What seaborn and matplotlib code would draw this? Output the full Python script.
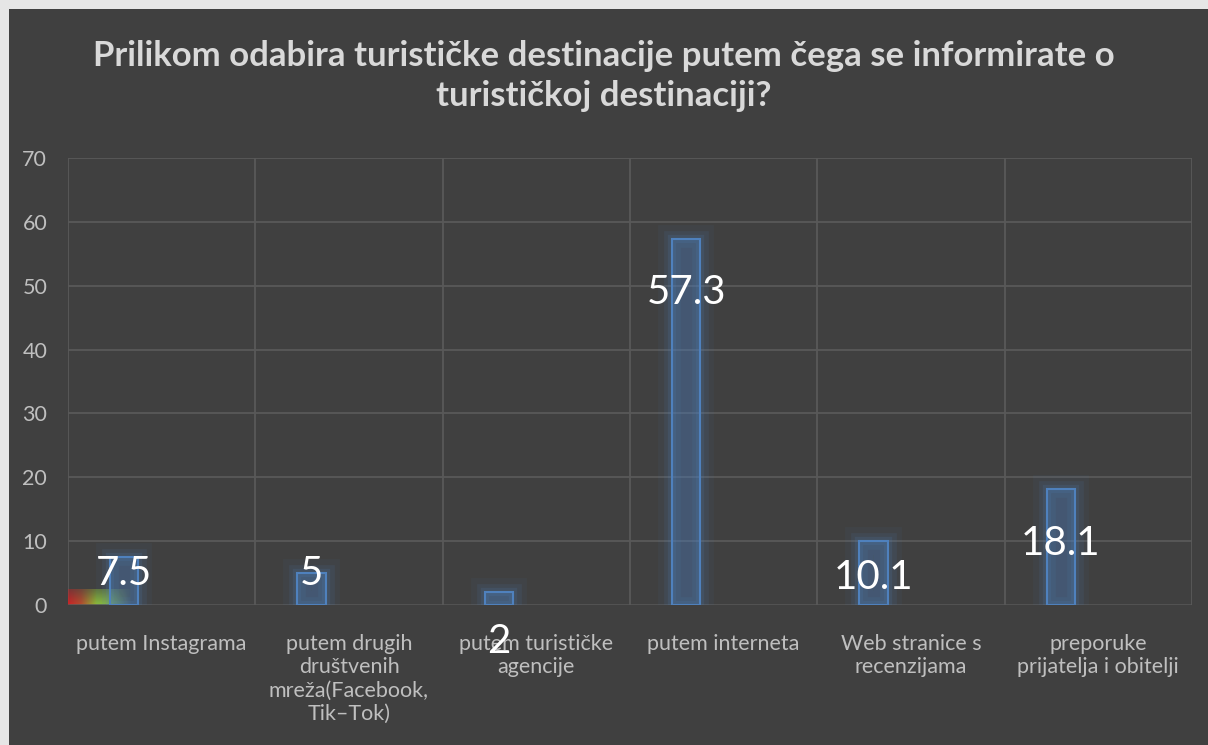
import matplotlib
matplotlib.use("Agg")
import matplotlib.pyplot as plt
import matplotlib.patheffects as pe
from matplotlib.patches import Rectangle
import seaborn as sns
import numpy as np

categories = ["putem Instagrama",
              "putem drugih\ndruštvenih\nmreža(Facebook,\nTik–Tok)",
              "putem turističke\nagencije",
              "putem interneta",
              "Web stranice s\nrecenzijama",
              "preporuke\nprijatelja i obitelji"]
values = [7.5, 5, 2, 57.3, 10.1, 18.1]
value_labels = ["7.5", "5", "2", "57.3", "10.1", "18.1"]
# where Excel put each data label (y, in axis units)
label_y = [4.9, 4.9, -5.7, 49.0, 4.3, 9.6]

title = "Prilikom odabira turističke destinacije putem čega se informirate o\nturističkoj destinaciji?"

bg = "#404040"
grid = "#595959"
blue = "#4f81bd"
font = ["Lato", "DejaVu Sans"]

sns.set_style("dark")
plt.rcParams["font.family"] = font

fig = plt.figure(figsize=(12.08, 7.45), dpi=100, facecolor=bg)
# thin light frame on the top and left edge
fig.add_artist(Rectangle((0, 1 - 9 / 745), 1, 9 / 745, transform=fig.transFigure,
                         facecolor="#e6e6e6", edgecolor="none", zorder=-1))
fig.add_artist(Rectangle((0, 0), 9 / 1208, 1, transform=fig.transFigure,
                         facecolor="#e6e6e6", edgecolor="none", zorder=-1))
ax = fig.add_axes([68 / 1208, 140 / 745, 1124 / 1208, 447 / 745])
ax.set_facecolor(bg)

# bars sit left of the category centre, like an Excel cluster
pos = np.arange(len(values)) - 0.2
sns.barplot(x=pos, y=values, native_scale=True, width=0.15, ax=ax,
            color=blue, edgecolor=blue, linewidth=1.5, zorder=3)
for p in ax.patches:
    p.set_facecolor((0.31, 0.5, 0.74, 0.13))
    p.set_path_effects([pe.Stroke(linewidth=20, foreground=blue, alpha=0.06),
                        pe.Stroke(linewidth=12, foreground=blue, alpha=0.1),
                        pe.Stroke(linewidth=6, foreground=blue, alpha=0.15),
                        pe.Normal()])

# the small red-green smudge at the bottom-left of the plot area
smudge = np.zeros((8, 64, 4))
t = np.linspace(0, 1, 64)
smudge[:, :, 0] = np.interp(t, [0, 0.2, 0.45, 1], [0.8, 0.72, 0.56, 0.56])
smudge[:, :, 1] = np.interp(t, [0, 0.2, 0.45, 1], [0.14, 0.3, 0.76, 0.76])
smudge[:, :, 2] = np.interp(t, [0, 0.45, 1], [0.15, 0.22, 0.22])
fade_x = np.interp(t, [0, 0.65, 1], [1.0, 0.95, 0.0])
fade_y = np.linspace(0.45, 1, 8)[:, None]
smudge[:, :, 3] = fade_x[None, :] * fade_y
ax.imshow(smudge, extent=(0, 64 / 1124, 0, 16 / 447), transform=ax.transAxes,
          aspect="auto", zorder=2, interpolation="bilinear", origin="upper")

for x, lab, y in zip(pos, value_labels, label_y):
    ax.text(x, y, lab, ha="center", va="center", color="white",
            fontsize=29, zorder=5, clip_on=False)

ax.set_xlim(-0.5, len(values) - 0.5)
ax.set_ylim(0, 70)
ax.set_yticks(range(0, 71, 10))
ax.set_xticks(range(len(values)))
ax.set_xticklabels(categories, color="#bfbfbf", fontsize=15.5, linespacing=1.2, va="top")
ax.tick_params(axis="y", colors="#bfbfbf", labelsize=15.5, length=0, pad=15)
ax.tick_params(axis="x", length=0, pad=21)
ax.set_xlabel("")
ax.set_ylabel("")

for yv in range(10, 71, 10):
    ax.axhline(yv, color=grid, lw=1.3, zorder=1)
for xv in np.arange(-0.5, len(values), 1.0):
    ax.axvline(xv, color=grid, lw=1.3, zorder=1)
for s in ax.spines.values():
    s.set_visible(False)
ax.axhline(0, color=grid, lw=1.8, zorder=2)

fig.text(0.5, 1 - 76 / 745, title, ha="center", va="center", color="#d9d9d9",
         fontsize=25, fontweight="bold", linespacing=1.3)

fig.savefig("out.png", dpi=100, facecolor=fig.get_facecolor())
